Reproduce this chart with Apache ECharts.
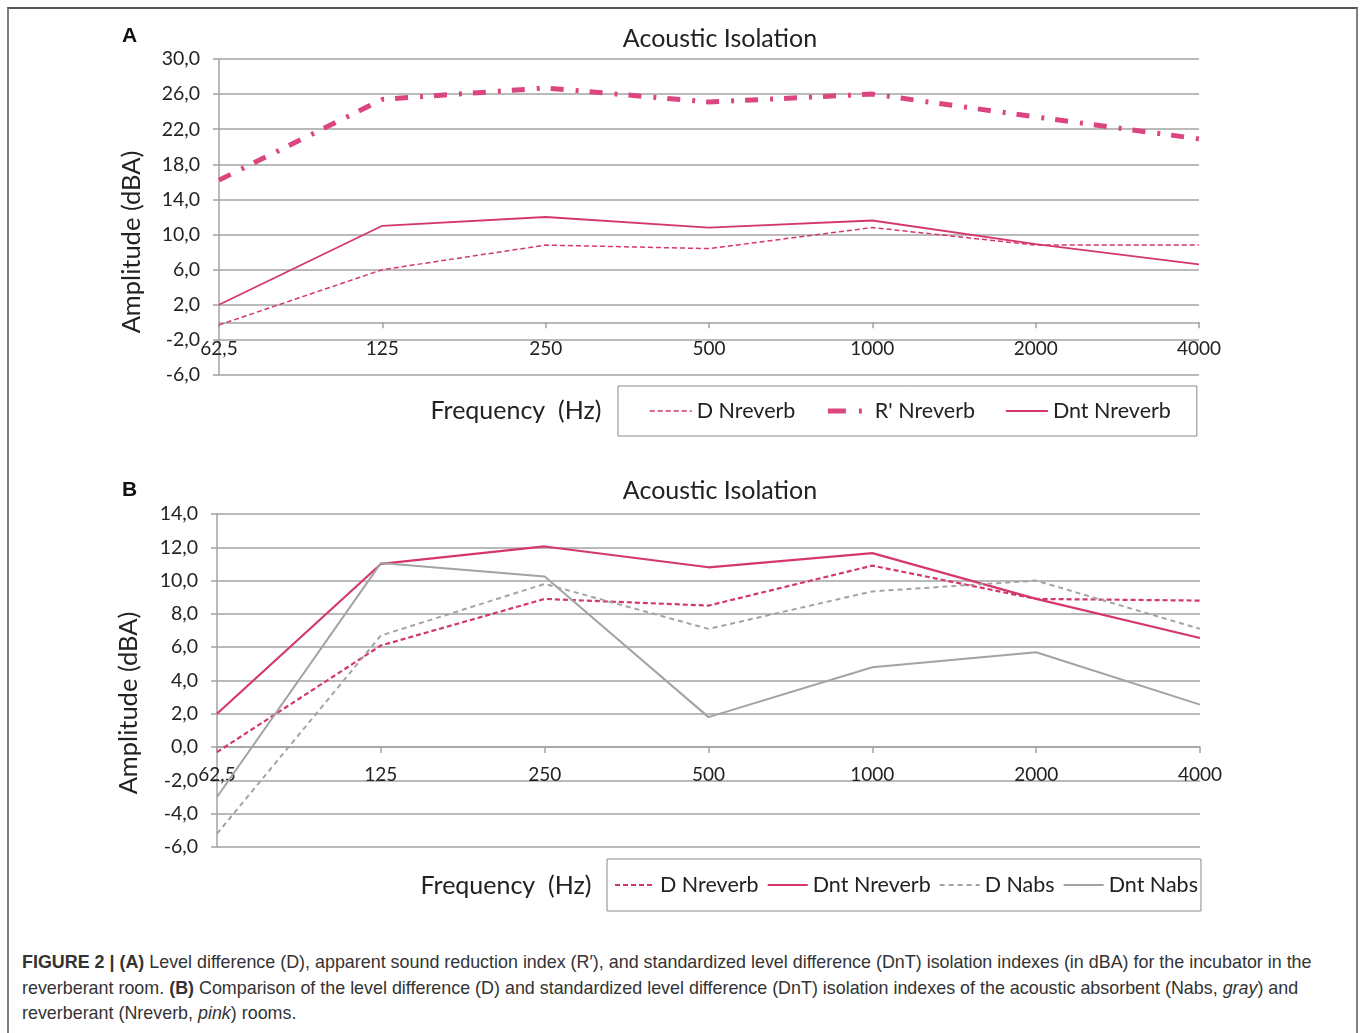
<!DOCTYPE html>
<html>
<head>
<meta charset="utf-8">
<script src="https://cdn.jsdelivr.net/npm/echarts@6/dist/echarts.min.js"></script>
<style>
  html, body { margin: 0; padding: 0; background: #fff; }
  #frame { position: absolute; left: 7px; top: 7px; width: 1347px; height: 1100px;
           border-left: 2px solid #808080; border-right: 2px solid #808080; border-top: 2px solid #555; }
  #chart { position: absolute; left: 0; top: 0; width: 1360px; height: 940px; }
  #caption { position: absolute; left: 22px; top: 950px; width: 1330px; white-space: nowrap;
             font-family: "Liberation Sans", Arial, sans-serif; font-size: 17.9px; line-height: 25.5px; color: #333; }
</style>
</head>
<body>
<div id="frame"></div>
<div id="chart"></div>
<div id="caption"><b>FIGURE 2 | (A)</b> Level difference (D), apparent sound reduction index (R′), and standardized level difference (DnT) isolation indexes (in dBA) for the incubator in the<br>reverberant room. <b>(B)</b> Comparison of the level difference (D) and standardized level difference (DnT) isolation indexes of the acoustic absorbent (Nabs, <i>gray</i>) and<br>reverberant (Nreverb, <i>pink</i>) rooms.</div>
<script>
// ---- data ----
const categories = ['62,5', '125', '250', '500', '1000', '2000', '4000'];

// Panel A
const aDNreverb   = [-0.3, 6.0, 8.8, 8.4, 10.8, 8.8, 8.8];
const aRNreverb   = [16.2, 25.4, 26.7, 25.1, 26.0, 23.4, 20.9];
const aDntNreverb = [2.0, 11.0, 12.0, 10.8, 11.6, 8.9, 6.6];

// Panel B
const bDNreverb   = [-0.3, 6.1, 8.9, 8.5, 10.9, 8.9, 8.8];
const bDntNreverb = [2.0, 11.0, 12.05, 10.8, 11.65, 8.9, 6.55];
const bDNabs      = [-5.2, 6.7, 9.8, 7.1, 9.35, 10.0, 7.1];
const bDntNabs    = [-3.0, 11.05, 10.25, 1.8, 4.8, 5.7, 2.55];

const yAxisA = { min: -6, max: 30, interval: 4 };
const yAxisB = { min: -6, max: 14, interval: 2 };

// ---- layout ----
const gridA = { left: 219, width: 980, top: 59, height: 316 };
const gridB = { left: 217, width: 983, top: 514, height: 333 };
// distance (px) from the grid bottom up to value 0, so the category axis sits at zero
const zeroOffset = (g, r) => -g.height * (0 - r.min) / (r.max - r.min);

// ---- styles ----
const FONT = 'Lato, "Open Sans", sans-serif';
const PINK = '#d4376f';
const PINK_THICK = '#dc4680';
const GRAY = '#a3a3a3';
const GRID = '#a3a3a3';

const fmt = v => v.toFixed(1).replace('.', ',');

function xAxisCfg(gridIndex, offset, margin) {
  return {
    type: 'category', gridIndex, data: categories, boundaryGap: false,
    position: 'bottom', offset,
    axisLine: { onZero: false, lineStyle: { color: GRID, width: 1.5 } },
    axisTick: { show: true, length: 6, inside: false, lineStyle: { color: GRID, width: 1.5 } },
    axisLabel: { margin, fontFamily: FONT, fontSize: 19, color: '#222', interval: 0 },
    splitLine: { show: false }
  };
}
function yAxisCfg(gridIndex, r) {
  return {
    type: 'value', gridIndex, min: r.min, max: r.max, interval: r.interval,
    axisLine: { show: true, lineStyle: { color: GRID, width: 1.5 } },
    axisTick: { show: true, length: 6, lineStyle: { color: GRID, width: 1.5 } },
    axisLabel: { margin: 19, fontFamily: FONT, fontSize: 19.5, color: '#222', formatter: fmt },
    splitLine: { show: true, lineStyle: { color: GRID, width: 1.5 } }
  };
}
function line(name, data, xi, color, width, type) {
  return {
    name, type: 'line', xAxisIndex: xi, yAxisIndex: xi, data,
    symbol: 'none', silent: true,
    lineStyle: { color, width, type, cap: 'butt' },
    itemStyle: { color }
  };
}

const legendText = { fontFamily: FONT, fontSize: 21.5, color: '#222' };
const hiddenSymbol = { opacity: 0, color: 'rgba(0,0,0,0)', borderWidth: 0 };

const option = {
  animation: false,
  title: [
    { text: 'Acoustic Isolation', left: 715, top: 21, textAlign: 'center',
      textStyle: { fontFamily: FONT, fontSize: 25, fontWeight: 'normal', color: '#222' } },
    { text: 'Acoustic Isolation', left: 715, top: 473, textAlign: 'center',
      textStyle: { fontFamily: FONT, fontSize: 25, fontWeight: 'normal', color: '#222' } }
  ],
  grid: [gridA, gridB],
  xAxis: [xAxisCfg(0, zeroOffset(gridA, yAxisA), 17), xAxisCfg(1, zeroOffset(gridB, yAxisB), 18)],
  yAxis: [yAxisCfg(0, yAxisA), yAxisCfg(1, yAxisB)],
  legend: [
    { left: 618, top: 386, padding: [14, 26, 14, 31], itemGap: 30, itemWidth: 42, itemHeight: 14,
      borderColor: '#8a8a8a', borderWidth: 1, textStyle: legendText, selectedMode: false,
      itemStyle: hiddenSymbol,
      data: [
        { name: 'D Nreverb', lineStyle: { width: 1.5 } },
        { name: "R' Nreverb", lineStyle: { width: 5, type: [18, 13, 3, 20] } },
        { name: 'Dnt Nreverb', lineStyle: { width: 1.8 } }
      ] },
    { left: 607, top: 859, padding: [15, 3, 15, 7], itemGap: 8, itemWidth: 40, itemHeight: 14,
      borderColor: '#8a8a8a', borderWidth: 1, textStyle: legendText, selectedMode: false,
      itemStyle: hiddenSymbol,
      data: [
        { name: 'D Nreverb', lineStyle: { width: 2 } },
        { name: 'Dnt Nreverb', lineStyle: { width: 2.2 } },
        { name: 'D Nabs', lineStyle: { width: 2 } },
        { name: 'Dnt Nabs', lineStyle: { width: 2 } }
      ] }
  ],
  graphic: [
    { type: 'text', x: 122, y: 26, style: { text: 'A', font: 'bold 21px "Liberation Sans", Arial', fill: '#111' } },
    { type: 'text', x: 122, y: 480, style: { text: 'B', font: 'bold 21px "Liberation Sans", Arial', fill: '#111' } },
    { type: 'text', x: 516, y: 411, style: { text: 'Frequency  (Hz)', font: '25px ' + FONT, fill: '#222', align: 'center', verticalAlign: 'middle' } },
    { type: 'text', x: 506, y: 886, style: { text: 'Frequency  (Hz)', font: '25px ' + FONT, fill: '#222', align: 'center', verticalAlign: 'middle' } },
    { type: 'text', x: 132, y: 242, rotation: Math.PI / 2, style: { text: 'Amplitude (dBA)', font: '25.5px ' + FONT, fill: '#222', align: 'center', verticalAlign: 'middle' } },
    { type: 'text', x: 129, y: 703, rotation: Math.PI / 2, style: { text: 'Amplitude (dBA)', font: '25.5px ' + FONT, fill: '#222', align: 'center', verticalAlign: 'middle' } }
  ],
  series: [
    line('D Nreverb', aDNreverb, 0, PINK, 1.5, [5, 3]),
    line("R' Nreverb", aRNreverb, 0, PINK_THICK, 5, [13, 12, 3, 11]),
    line('Dnt Nreverb', aDntNreverb, 0, PINK, 1.8, 'solid'),
    line('D Nreverb', bDNreverb, 1, PINK, 2.2, [5, 3]),
    line('Dnt Nreverb', bDntNreverb, 1, PINK, 2.2, 'solid'),
    line('D Nabs', bDNabs, 1, GRAY, 2, [5, 4]),
    line('Dnt Nabs', bDntNabs, 1, GRAY, 2, 'solid')
  ]
};

const chart = echarts.init(document.getElementById('chart'), null, { renderer: 'canvas' });
chart.setOption(option);
</script>
</body>
</html>
